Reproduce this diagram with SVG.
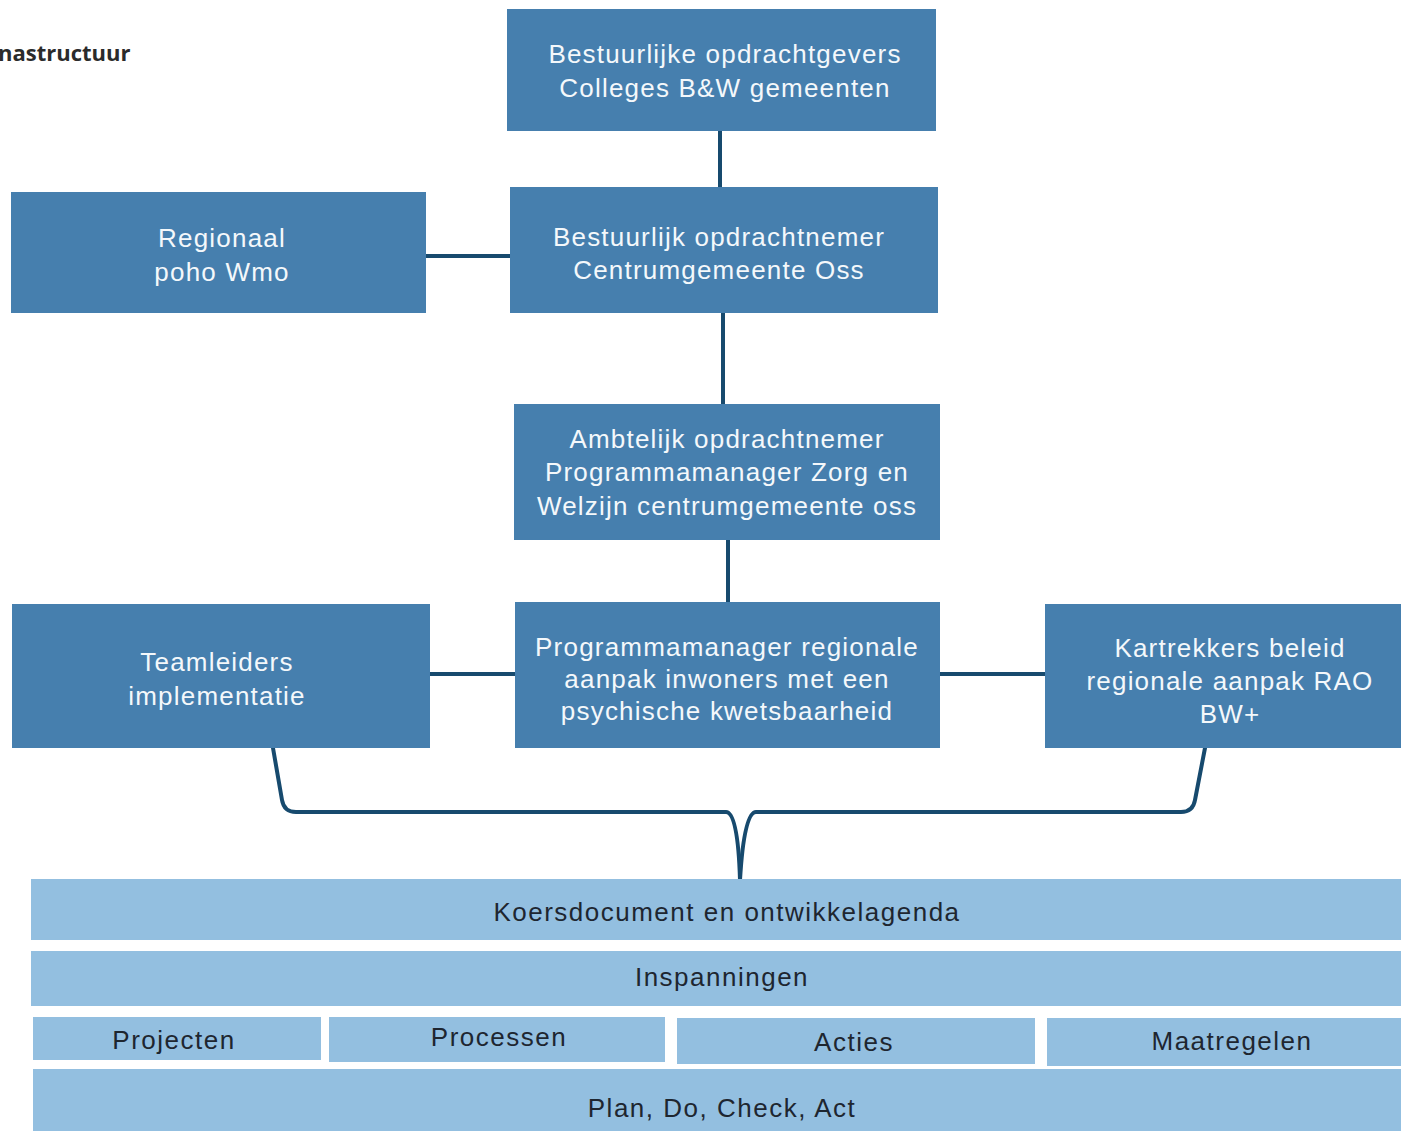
<svg xmlns="http://www.w3.org/2000/svg" width="1401" height="1131" viewBox="0 0 1401 1131">
<style>
.dk{fill:#467fae}
.lt{fill:#93bfe0}
.tw{fill:#f4f8fb;font-family:"Liberation Sans",Arial,sans-serif;font-size:26px;letter-spacing:1.2px;text-anchor:middle}
.tb{fill:#1e2630;font-family:"Liberation Sans",Arial,sans-serif;font-size:26px;letter-spacing:1.5px;text-anchor:middle}
.ln{fill:none;stroke:#174a6e;stroke-width:4;stroke-linecap:round;stroke-linejoin:round}
.ttl{fill:#2b2b2b;font-family:"Open Sans","Liberation Sans",sans-serif;font-size:22px;font-weight:bold}
</style>
<rect width="1401" height="1131" fill="#ffffff"/>
<text class="ttl" x="-2" y="61">nastructuur</text>
<g id="connectors">
<path class="ln" d="M720 131 V188"/>
<path class="ln" d="M426 256 H511"/>
<path class="ln" d="M723 313 V405"/>
<path class="ln" d="M728 540 V603"/>
<path class="ln" d="M430 674 H516"/>
<path class="ln" d="M940 674 H1046"/>
<path class="ln" d="M273 748 L282 800 Q284 812 296 812 H726 Q738 812 740 880"/>
<path class="ln" d="M1205 748 L1195 800 Q1193 812 1181 812 H756 Q744 812 740 880"/>
</g>
<g id="n1"><rect class="dk" x="507" y="9" width="429" height="122"/><text class="tw" x="725" y="63">Bestuurlijke opdrachtgevers</text><text class="tw" x="725" y="97">Colleges B&amp;W gemeenten</text></g>
<g id="n2"><rect class="dk" x="11" y="192" width="415" height="121"/><text class="tw" x="222" y="247">Regionaal</text><text class="tw" x="222" y="281">poho Wmo</text></g>
<g id="n3"><rect class="dk" x="510" y="187" width="428" height="126"/><text class="tw" x="719" y="246">Bestuurlijk opdrachtnemer</text><text class="tw" x="719" y="279">Centrumgemeente Oss</text></g>
<g id="n4"><rect class="dk" x="514" y="404" width="426" height="136"/><text class="tw" x="727" y="448">Ambtelijk opdrachtnemer</text><text class="tw" x="727" y="481">Programmamanager Zorg en</text><text class="tw" x="727" y="515">Welzijn centrumgemeente oss</text></g>
<g id="n5"><rect class="dk" x="12" y="604" width="418" height="144"/><text class="tw" x="217" y="671">Teamleiders</text><text class="tw" x="217" y="705">implementatie</text></g>
<g id="n6"><rect class="dk" x="515" y="602" width="425" height="146"/><text class="tw" x="727" y="656">Programmamanager regionale</text><text class="tw" x="727" y="688">aanpak inwoners met een</text><text class="tw" x="727" y="720">psychische kwetsbaarheid</text></g>
<g id="n7"><rect class="dk" x="1045" y="604" width="356" height="144"/><text class="tw" x="1230" y="657">Kartrekkers beleid</text><text class="tw" x="1230" y="690">regionale aanpak RAO</text><text class="tw" x="1230" y="723">BW+</text></g>
<g id="b1"><rect class="lt" x="31" y="879" width="1370" height="61"/><text class="tb" x="727" y="921">Koersdocument en ontwikkelagenda</text></g>
<g id="b2"><rect class="lt" x="31" y="951" width="1370" height="55"/><text class="tb" x="722" y="986">Inspanningen</text></g>
<g id="b3"><rect class="lt" x="33" y="1017" width="288" height="43"/><text class="tb" x="174" y="1049">Projecten</text></g>
<g id="b4"><rect class="lt" x="329" y="1017" width="336" height="45"/><text class="tb" x="499" y="1046">Processen</text></g>
<g id="b5"><rect class="lt" x="677" y="1018" width="358" height="46"/><text class="tb" x="854" y="1051">Acties</text></g>
<g id="b6"><rect class="lt" x="1047" y="1018" width="354" height="48"/><text class="tb" x="1232" y="1050">Maatregelen</text></g>
<g id="b7"><rect class="lt" x="33" y="1069" width="1368" height="62"/><text class="tb" x="722" y="1117">Plan, Do, Check, Act</text></g>
</svg>
